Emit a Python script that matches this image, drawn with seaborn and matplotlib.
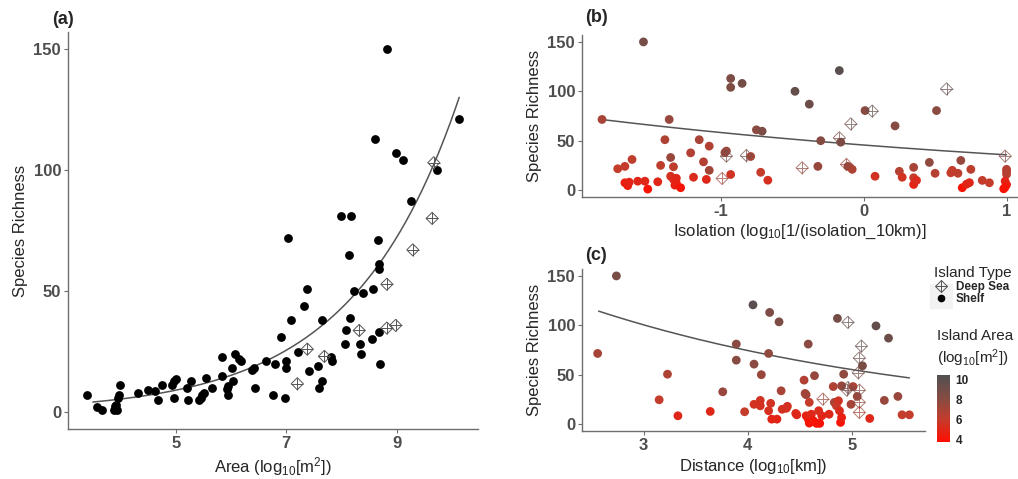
import numpy as np
import pandas as pd
import matplotlib
matplotlib.use('Agg')
from matplotlib import pyplot as plt
from matplotlib.colors import LinearSegmentedColormap, Normalize
from matplotlib.cm import ScalarMappable
from matplotlib.lines import Line2D
from matplotlib.patches import Rectangle
from matplotlib.legend_handler import HandlerTuple
import seaborn as sns

# ---- panel (a): richness vs area ----
a_area_shelf = [3.39, 3.57, 3.66, 3.88, 3.90, 3.92, 3.93, 3.97, 3.99, 3.96,
                4.31, 4.49, 4.62, 4.67, 4.76, 4.94, 4.97, 5.01, 4.97, 5.27,
                5.21, 5.22, 5.42, 5.45, 5.48, 5.52, 5.55, 5.66, 5.83, 5.84,
                5.93, 5.95, 5.94, 6.02, 6.03, 6.08, 6.14, 6.18, 6.38, 6.42,
                6.44, 6.64, 6.76, 6.79, 6.91, 6.98, 6.99, 7.00, 7.03, 7.08,
                7.21, 7.32, 7.38, 7.42, 7.57, 7.59, 7.64, 7.65, 7.81, 7.83,
                7.99, 8.06, 8.08, 8.13, 8.16, 8.17, 8.22, 8.33, 8.35, 8.39,
                8.55, 8.57, 8.61, 8.66, 8.68, 8.67, 8.68, 8.70, 8.83, 8.98,
                9.12, 9.26, 9.72, 10.13]
a_rich_shelf = [6.9, 2.1, 1.0, 1.0, 2.3, 3.0, 1.0, 7.0, 11.0, 6.0,
                8.0, 9.0, 8.5, 5.0, 11.0, 11.0, 12.7, 13.8, 5.8, 13.0,
                10.0, 5.0, 5.0, 6.0, 7.0, 8.0, 14.0, 10.0, 15.0, 22.7,
                9.5, 10.9, 7.0, 18.0, 13.0, 24.0, 22.0, 21.0, 17.5, 18.0,
                10.0, 21.0, 7.0, 20.0, 31.0, 5.8, 21.0, 18.0, 72.0, 38.0,
                25.0, 44.0, 51.0, 17.0, 19.0, 10.0, 13.0, 38.0, 22.7, 21.0,
                81.0, 28.0, 33.7, 65.0, 38.8, 81.0, 50.0, 28.0, 24.0, 49.0,
                30.0, 51.0, 113.0, 71.0, 61.0, 59.0, 33.0, 20.0, 150.0, 107.0,
                104.0, 87.0, 100.0, 121.0]
a_area_deep = [7.20, 7.38, 7.69, 8.32, 8.82, 8.82, 8.98, 9.29, 9.64, 9.67]
a_rich_deep = [11.7, 26.0, 23.0, 33.7, 52.8, 34.7, 35.8, 67.0, 80.0, 103.0]
a_fit = (-0.40, 0.52)          # log(richness) = b0 + b1 * area
a_fit_range = (3.5, 10.13)

# ---- panel (b): richness vs isolation ----
b_iso_shelf = [-1.83, -1.72, -1.67, -1.67, -1.65, -1.64, -1.62, -1.58, -1.54, -1.53,
               -1.51, -1.44, -1.39, -1.36, -1.35, -1.42, -1.35, -1.33, -1.33, -1.31,
               -1.31, -1.32, -1.28, -1.21, -1.19, -1.15, -1.12, -1.10, -1.08, -1.08,
               -0.97, -0.96, -0.93, -0.93, -0.93, -0.85, -0.79, -0.75, -0.71, -0.72,
               -0.67, -0.48, -0.38, -0.32, -0.30, -0.17, -0.16, -0.11, -0.08, 0.01,
               0.08, 0.22, 0.25, 0.27, 0.35, 0.35, 0.35, 0.37, 0.46, 0.50,
               0.51, 0.61, 0.62, 0.66, 0.68, 0.69, 0.72, 0.74, 0.75, 0.83,
               0.88, 1.00, 1.00, 1.00, 0.99, 1.00, 0.99, 0.98]
b_rich_shelf = [71.5, 21.6, 24.0, 7.4, 4.5, 8.0, 31.0, 9.0, 150.0, 9.0,
                1.0, 8.4, 51.0, 71.5, 33.0, 25.0, 14.0, 23.6, 10.8, 12.0,
                7.0, 5.0, 2.4, 37.7, 13.0, 51.0, 28.6, 10.8, 20.0, 44.5,
                38.0, 39.5, 15.8, 113.0, 104.0, 108.0, 34.0, 61.0, 59.6, 18.0,
                10.0, 100.0, 87.0, 24.0, 50.0, 121.0, 48.5, 24.0, 21.0, 80.5,
                14.0, 65.0, 19.0, 13.0, 12.5, 23.0, 5.7, 9.8, 28.0, 17.0,
                80.5, 17.5, 20.0, 17.0, 30.0, 2.4, 6.0, 7.5, 21.0, 9.8,
                7.4, 16.0, 19.0, 21.0, 9.0, 5.5, 3.0, 1.3]
b_area_shelf = [7.0, 6.0, 6.0, 4.6, 4.4, 4.8, 6.2, 5.0, 8.8, 5.0,
                4.0, 5.0, 6.8, 7.5, 7.5, 6.2, 5.4, 6.2, 5.2, 5.0,
                4.8, 4.6, 4.0, 6.6, 5.2, 7.0, 6.6, 5.0, 7.2, 6.6,
                7.5, 7.6, 5.6, 8.6, 8.6, 8.9, 7.0, 8.0, 8.6, 6.0,
                5.3, 9.6, 9.2, 7.5, 8.2, 10.1, 8.5, 7.6, 6.8, 8.0,
                5.5, 8.1, 6.5, 5.5, 6.0, 7.0, 4.8, 5.2, 7.8, 6.5,
                8.0, 6.0, 6.0, 6.2, 7.5, 4.0, 4.8, 5.0, 6.3, 6.0,
                6.0, 6.4, 6.5, 6.6, 5.0, 4.6, 4.3, 4.0]
b_iso_deep = [-0.99, -0.96, -0.82, -0.43, -0.17, -0.12, -0.09, 0.06, 0.58, 0.99]
b_rich_deep = [11.8, 34.4, 35.0, 22.6, 53.0, 26.0, 67.0, 80.0, 102.5, 34.4]
b_area_deep = [7.20, 8.82, 8.98, 7.69, 8.82, 7.38, 9.29, 9.64, 9.67, 8.32]
b_fit = (3.82, -0.245)
b_fit_range = (-1.83, 1.0)

# ---- panel (c): richness vs distance ----
c_dist_shelf = [2.56, 2.74, 3.15, 3.23, 3.33, 3.64, 3.76, 3.89, 3.89, 3.97,
                4.05, 4.06, 4.06, 4.12, 4.12, 4.13, 4.20, 4.21, 4.22, 4.20,
                4.23, 4.30, 4.32, 4.33, 4.28, 4.38, 4.37, 4.46, 4.47, 4.54,
                4.55, 4.56, 4.56, 4.58, 4.59, 4.61, 4.63, 4.66, 4.69, 4.71,
                4.68, 4.58, 4.59, 4.64, 4.78, 4.82, 4.83, 4.85, 4.86, 4.87,
                4.88, 4.89, 4.90, 4.92, 4.90, 4.99, 5.01, 5.05, 5.10, 5.17,
                5.23, 5.31, 5.35, 5.44, 5.48, 5.55]
c_rich_shelf = [71.5, 150.0, 24.6, 50.5, 8.4, 12.8, 32.7, 81.0, 64.7, 12.5,
                120.7, 60.7, 20.0, 24.0, 18.5, 50.0, 71.5, 113.0, 21.0, 13.5,
                5.0, 103.5, 33.7, 15.0, 5.0, 18.0, 16.0, 10.8, 9.4, 44.5,
                31.0, 29.7, 8.4, 5.0, 1.0, 10.0, 3.4, 0.7, 0.7, 8.4,
                13.5, 81.0, 22.0, 49.0, 10.0, 38.0, 22.0, 18.5, 107.0, 23.6,
                13.5, 1.7, 6.7, 50.5, 38.7, 20.0, 38.0, 28.0, 59.0, 5.7,
                99.4, 24.0, 87.0, 28.0, 9.4, 9.4]
c_area_shelf = [7.0, 8.8, 6.0, 6.8, 5.0, 5.0, 7.5, 8.0, 8.1, 6.0,
                10.1, 8.0, 5.5, 5.5, 5.4, 7.5, 7.8, 8.6, 5.5, 5.3,
                4.8, 8.6, 7.0, 5.4, 4.8, 5.5, 5.4, 5.2, 5.0, 6.7,
                7.0, 7.2, 4.8, 4.6, 4.0, 5.0, 4.3, 4.0, 4.0, 4.8,
                5.2, 8.0, 6.0, 7.5, 5.0, 6.8, 7.0, 6.0, 8.9, 5.6,
                5.2, 4.0, 4.6, 7.8, 7.5, 7.0, 6.8, 7.5, 8.7, 5.0,
                9.7, 7.5, 9.3, 7.5, 6.0, 6.0]
c_dist_deep = [4.72, 4.96, 4.95, 4.96, 5.06, 5.07, 5.09, 5.07, 5.07, 5.07]
c_rich_deep = [25.3, 103.0, 34.4, 37.0, 52.0, 67.0, 79.0, 34.4, 22.0, 11.8]
c_area_deep = [7.38, 9.67, 8.82, 8.98, 8.82, 9.29, 9.64, 8.32, 7.69, 7.20]
c_fit = (5.51, -0.30)
c_fit_range = (2.57, 5.55)

# colour scale stops for island area (low -> high)
area_stops = [3.7, 6.0, 8.0, 10.5]
area_colours = ['#FF0D00', '#C43C2C', '#8A4B42', '#505050']

sns.set_style('white')
plt.rcParams['font.family'] = ['Liberation Sans', 'DejaVu Sans']
plt.rcParams['mathtext.fontset'] = 'custom'
plt.rcParams['mathtext.rm'] = 'Liberation Sans'
plt.rcParams['mathtext.it'] = 'Liberation Sans'
plt.rcParams['mathtext.bf'] = 'Liberation Sans:bold'
plt.rcParams['axes.unicode_minus'] = False

GREY = '#4D4D4D'
norm = Normalize(area_stops[0], area_stops[-1])
cmap = LinearSegmentedColormap.from_list(
    'area', list(zip([float(norm(v)) for v in area_stops], area_colours)))

fig = plt.figure(figsize=(10.18, 4.79), dpi=100)
W, H = 1018, 479


def px_axes(l, t, r, b):
    return fig.add_axes([l / W, 1 - b / H, (r - l) / W, (b - t) / H])


ax_a = px_axes(68, 32, 478, 429)
ax_b = px_axes(582, 35, 1018, 197)
ax_c = px_axes(582, 269, 925, 431)


def deep_sea(ax, x, y, colors, s=38, alpha=1.0):
    ax.scatter(x, y, marker='D', s=s, facecolors='none', edgecolors=colors,
               linewidths=0.7, alpha=alpha, zorder=3)
    ax.scatter(x, y, marker='+', s=s * 2, c=colors, linewidths=0.7,
               alpha=alpha, zorder=3)


def fit_line(ax, coef, rng):
    xx = np.linspace(rng[0], rng[1], 200)
    yy = np.exp(coef[0] + coef[1] * xx)
    sns.lineplot(x=xx, y=yy, color='#555555', linewidth=1.1, ax=ax, zorder=2)


# (a)
sns.scatterplot(x=a_area_shelf, y=a_rich_shelf, color='black', s=40,
                linewidth=0, ax=ax_a, zorder=3)
deep_sea(ax_a, a_area_deep, a_rich_deep, '#555555')
fit_line(ax_a, a_fit, a_fit_range)

# (b)
df_b = pd.DataFrame({'iso': b_iso_shelf, 'rich': b_rich_shelf, 'area': b_area_shelf})
sns.scatterplot(data=df_b, x='iso', y='rich', hue='area', palette=cmap,
                hue_norm=norm, s=40, linewidth=0, legend=False, ax=ax_b, zorder=3)
deep_sea(ax_b, b_iso_deep, b_rich_deep, cmap(norm(b_area_deep)), alpha=0.7)
fit_line(ax_b, b_fit, b_fit_range)

# (c)
df_c = pd.DataFrame({'dist': c_dist_shelf, 'rich': c_rich_shelf, 'area': c_area_shelf})
sns.scatterplot(data=df_c, x='dist', y='rich', hue='area', palette=cmap,
                hue_norm=norm, s=40, linewidth=0, legend=False, ax=ax_c, zorder=3)
deep_sea(ax_c, c_dist_deep, c_rich_deep, cmap(norm(c_area_deep)), alpha=0.7)
fit_line(ax_c, c_fit, c_fit_range)

ax_a.set_xlim(3.05, 10.47)
ax_b.set_xlim(-1.97, 1.08)
ax_c.set_xlim(2.41, 5.70)
ax_a.set_xticks([5, 7, 9])
ax_b.set_xticks([-1, 0, 1])
ax_c.set_xticks([3, 4, 5])

xlabels = ['Area (log$_{10}$[m$^2$])',
           'Isolation (log$_{10}$[1/(isolation_10km)]',
           'Distance (log$_{10}$[km])']
for ax, xl in zip([ax_a, ax_b, ax_c], xlabels):
    ax.set_ylim(-7, 157)
    ax.set_yticks([0, 50, 100, 150])
    for sp in ['top', 'right']:
        ax.spines[sp].set_visible(False)
    for sp in ['left', 'bottom']:
        ax.spines[sp].set_color('#6E6E6E')
        ax.spines[sp].set_linewidth(1.0)
    ax.tick_params(length=3, width=0.8, color='#6E6E6E', labelsize=12,
                   labelcolor=GREY, pad=2, left=True, bottom=True)
    for lab in ax.get_xticklabels() + ax.get_yticklabels():
        lab.set_fontweight('bold')
    ax.set_xlabel(xl, fontsize=12, labelpad=3)
    ax.set_ylabel('Species Richness', fontsize=12, labelpad=4)

fig.text(52 / W, 1 - 19 / H, '(a)', fontsize=13, fontweight='bold', va='center')
fig.text(585 / W, 1 - 17 / H, '(b)', fontsize=13, fontweight='bold', va='center')
fig.text(585 / W, 1 - 256 / H, '(c)', fontsize=13, fontweight='bold', va='center')

# legend: island type
fig.patches.append(Rectangle((930 / W, 1 - 308 / H), 22 / W, 24 / H,
                             transform=fig.transFigure, color='#F2F2F2', zorder=0))
h_deep = (Line2D([], [], marker='D', mfc='none', mec='#555555', ls='', ms=6.5, mew=0.7),
          Line2D([], [], marker='+', color='#555555', ls='', ms=9, mew=0.7))
h_shelf = Line2D([], [], marker='o', color='black', ls='', ms=4.5)
leg = fig.legend([h_deep, h_shelf], ['Deep Sea', 'Shelf'],
                 handler_map={tuple: HandlerTuple(ndivide=1, pad=0)},
                 loc='upper left', bbox_to_anchor=(926 / W, 1 - 258 / H),
                 frameon=False, title='Island Type', title_fontsize=11,
                 prop={'weight': 'bold', 'size': 8.5}, handlelength=1.2,
                 handletextpad=0.6, labelspacing=0.05, borderpad=0.2)
leg._legend_box.align = 'left'

# colour bar: island area
fig.text(937 / W, 1 - 336 / H, 'Island Area', fontsize=11, va='center')
fig.text(937 / W, 1 - 358 / H, '(log$_{10}$[m$^2$])', fontsize=11, va='center')
cax = px_axes(937, 375, 950, 442)
cb = fig.colorbar(ScalarMappable(norm=norm, cmap=cmap), cax=cax)
cb.outline.set_visible(False)
cb.set_ticks([4, 6, 8, 10])
cax.tick_params(length=3, width=0.6, color='white', direction='in',
                labelsize=8.5, pad=4, left=True, right=True)
for lab in cax.get_yticklabels():
    lab.set_fontweight('bold')

fig.savefig('out.png', dpi=100)
